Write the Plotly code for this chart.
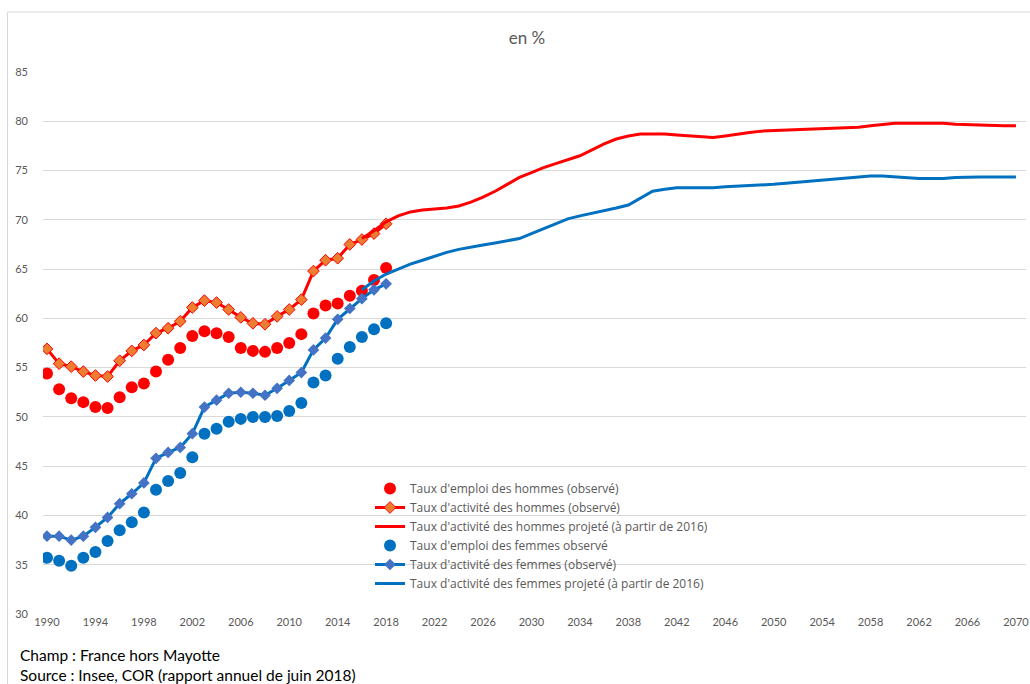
import plotly.graph_objects as go

# observed years and projection years
annees_obs = list(range(1990, 2019))
annees_proj = list(range(2016, 2071))

# observed rates (%)
emploi_hommes = [54.4, 52.8, 51.9, 51.5, 51.0, 50.9, 52.0, 53.0, 53.4, 54.6,
                 55.8, 57.0, 58.2, 58.7, 58.5, 58.1, 57.0, 56.7, 56.6, 57.0,
                 57.5, 58.4, 60.5, 61.3, 61.5, 62.3, 62.8, 63.9, 65.1]
activite_hommes = [56.9, 55.4, 55.1, 54.6, 54.2, 54.1, 55.7, 56.7, 57.3, 58.5,
                   59.0, 59.7, 61.1, 61.8, 61.6, 60.9, 60.1, 59.5, 59.4, 60.2,
                   60.9, 61.9, 64.8, 65.9, 66.1, 67.5, 68.0, 68.6, 69.6]
emploi_femmes = [35.7, 35.4, 34.9, 35.7, 36.3, 37.4, 38.5, 39.3, 40.3, 42.6,
                 43.5, 44.3, 45.9, 48.3, 48.8, 49.5, 49.8, 50.0, 50.0, 50.1,
                 50.6, 51.4, 53.5, 54.2, 55.9, 57.1, 58.1, 58.9, 59.5]
activite_femmes = [37.9, 37.9, 37.5, 37.9, 38.8, 39.8, 41.2, 42.2, 43.3, 45.8,
                   46.4, 46.9, 48.3, 51.0, 51.7, 52.4, 52.5, 52.4, 52.2, 52.9,
                   53.7, 54.5, 56.8, 58.0, 59.9, 61.0, 62.0, 62.9, 63.5]

# projected activity rates (%), 2016-2070
proj_hommes = [68.1, 68.9, 69.8, 70.4, 70.8, 71.0, 71.1, 71.2, 71.4, 71.8,
               72.3, 72.9, 73.6, 74.3, 74.8, 75.3, 75.7, 76.1, 76.5, 77.1,
               77.7, 78.2, 78.5, 78.7, 78.7, 78.7, 78.6, 78.5, 78.45, 78.35,
               78.5, 78.7, 78.85, 79.0, 79.05, 79.1, 79.15, 79.25, 79.3, 79.35,
               79.35, 79.4, 79.55, 79.65, 79.8, 79.8, 79.8, 79.8, 79.8, 79.7,
               79.65, 79.65, 79.6, 79.55, 79.55]
proj_femmes = [62.9, 63.8, 64.5, 65.0, 65.5, 65.9, 66.3, 66.7, 67.0, 67.25,
               67.45, 67.65, 67.9, 68.1, 68.6, 69.1, 69.6, 70.1, 70.4, 70.65,
               70.9, 71.2, 71.5, 72.2, 72.9, 73.1, 73.25, 73.25, 73.25, 73.25,
               73.35, 73.4, 73.5, 73.5, 73.6, 73.7, 73.8, 73.9, 74.0, 74.1,
               74.2, 74.3, 74.45, 74.45, 74.35, 74.3, 74.2, 74.2, 74.2, 74.3,
               74.35, 74.35, 74.35, 74.35, 74.35]

ticks_x = list(range(1990, 2071, 4))

ROUGE = '#FF0000'
BLEU = '#0070C0'
GRIS = '#595959'
POLICE = 'Lato'

W, H = 1030, 684
L, R, T, B = 43, 4, 72, 70
pw, ph = W - L - R, H - T - B


# helpers: window pixel -> paper coordinate
def px_x(x):
    return (x - L) / pw


def px_y(y):
    return (H - B - y) / ph


fig = go.Figure()

fig.add_trace(go.Scatter(x=annees_obs, y=emploi_hommes, mode='markers',
                         name="Taux d'emploi des hommes (observé)",
                         marker=dict(color=ROUGE, size=12)))
fig.add_trace(go.Scatter(x=annees_obs, y=activite_hommes, mode='lines+markers',
                         name="Taux d'activité des hommes (observé)",
                         line=dict(color=ROUGE, width=3),
                         marker=dict(symbol='diamond', size=9, color='#ED7D31',
                                     line=dict(color=ROUGE, width=1))))
fig.add_trace(go.Scatter(x=annees_proj, y=proj_hommes, mode='lines',
                         name="Taux d'activité des hommes projeté (à partir de 2016)",
                         line=dict(color=ROUGE, width=3)))
fig.add_trace(go.Scatter(x=annees_obs, y=emploi_femmes, mode='markers',
                         name="Taux d'emploi des femmes observé",
                         marker=dict(color=BLEU, size=12)))
fig.add_trace(go.Scatter(x=annees_obs, y=activite_femmes, mode='lines+markers',
                         name="Taux d'activité des femmes (observé)",
                         line=dict(color=BLEU, width=3),
                         marker=dict(symbol='diamond', size=9, color='#4472C4')))
fig.add_trace(go.Scatter(x=annees_proj, y=proj_femmes, mode='lines',
                         name="Taux d'activité des femmes projeté (à partir de 2016)",
                         line=dict(color=BLEU, width=3)))

fig.update_layout(
    width=W, height=H,
    margin=dict(l=L, r=R, t=T, b=B),
    paper_bgcolor='white', plot_bgcolor='white',
    hovermode=False,
    font=dict(family=POLICE, color=GRIS, size=12),
    title=dict(text='en %', x=527 / W, xref='container', xanchor='center',
               y=1 - 38 / H, yref='container', yanchor='middle',
               font=dict(size=17, color=GRIS, family=POLICE)),
    showlegend=True,
    legend=dict(x=px_x(370), y=px_y(474), xanchor='left', yanchor='top',
                bgcolor='rgba(0,0,0,0)',
                font=dict(size=12, color=GRIS, family='Open Sans'),
                tracegroupgap=0),
    xaxis=dict(range=[1989.67, 2070.83], tickvals=ticks_x, showgrid=False,
               zeroline=False, showline=False, ticks='', automargin=False,
               tickfont=dict(size=11, color=GRIS)),
    yaxis=dict(range=[30, 85], dtick=5, showgrid=True, gridcolor='#D9D9D9',
               gridwidth=1, zeroline=False, showline=False, ticks='',
               automargin=False, ticklabelstandoff=14,
               tickfont=dict(size=11, color=GRIS)),
)

# chart-area border
fig.add_shape(type='rect', xref='paper', yref='paper',
              x0=px_x(7.5), x1=px_x(1040), y0=px_y(700), y1=px_y(12),
              line=dict(color='#D9D9D9', width=1), layer='below')

fig.add_annotation(text='Champ : France hors Mayotte', xref='paper', yref='paper',
                   x=px_x(18), y=px_y(655), xanchor='left', yanchor='middle',
                   showarrow=False, font=dict(size=15.5, color='black', family=POLICE))
fig.add_annotation(text='Source : Insee, COR (rapport annuel de juin 2018)',
                   xref='paper', yref='paper',
                   x=px_x(18), y=px_y(675), xanchor='left', yanchor='middle',
                   showarrow=False, font=dict(size=15.5, color='black', family=POLICE))

# drop the default page margin so the figure fills the window exactly
fig.write_html('out.html', config={'displayModeBar': False},
               post_script="document.body.style.margin = '0';")
